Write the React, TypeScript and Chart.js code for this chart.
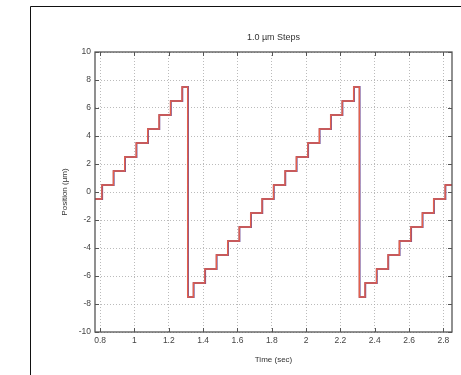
import React, { useEffect, useRef } from "react";
import { Chart, registerables } from "chart.js";

Chart.register(...registerables);

const chartTitle = "1.0 µm Steps";
const xAxisTitle = "Time (sec)";
const yAxisTitle = "Position (µm)";

// Commanded position: step transition times (s) and the new level (µm)
const commandTimes = [
  0.77, 0.81, 0.877, 0.943, 1.01, 1.077, 1.143, 1.21, 1.277,
  1.31, 1.343, 1.41, 1.477, 1.543, 1.61, 1.677, 1.743, 1.81, 1.877, 1.943,
  2.01, 2.077, 2.143, 2.21, 2.277,
  2.31, 2.343, 2.41, 2.477, 2.543, 2.61, 2.677, 2.743, 2.81, 2.85,
];
const commandLevels = [
  -0.5, 0.5, 1.5, 2.5, 3.5, 4.5, 5.5, 6.5, 7.5,
  -7.5, -6.5, -5.5, -4.5, -3.5, -2.5, -1.5, -0.5, 0.5, 1.5, 2.5,
  3.5, 4.5, 5.5, 6.5, 7.5,
  -7.5, -6.5, -5.5, -4.5, -3.5, -2.5, -1.5, -0.5, 0.5, 0.5,
];

// Measured position (slightly lagging the command)
const measuredTimes = [
  0.77, 0.812, 0.879, 0.945, 1.012, 1.079, 1.145, 1.212, 1.279,
  1.312, 1.345, 1.412, 1.479, 1.545, 1.612, 1.679, 1.745, 1.812, 1.879, 1.945,
  2.012, 2.079, 2.145, 2.212, 2.279,
  2.312, 2.345, 2.412, 2.479, 2.545, 2.612, 2.679, 2.745, 2.812, 2.85,
];
const measuredLevels = [
  -0.5, 0.5, 1.5, 2.5, 3.5, 4.5, 5.5, 6.5, 7.5,
  -7.5, -6.5, -5.5, -4.5, -3.5, -2.5, -1.5, -0.5, 0.5, 1.5, 2.5,
  3.5, 4.5, 5.5, 6.5, 7.5,
  -7.5, -6.5, -5.5, -4.5, -3.5, -2.5, -1.5, -0.5, 0.5, 0.5,
];

const xTicks = [0.8, 1, 1.2, 1.4, 1.6, 1.8, 2, 2.2, 2.4, 2.6, 2.8];
const yTicks = [-10, -8, -6, -4, -2, 0, 2, 4, 6, 8, 10];

const FONT = "'Liberation Sans', Arial, sans-serif";

const framePlugin = {
  id: "framePlugin",
  beforeDraw(chart: any) {
    const ctx = chart.ctx;
    ctx.save();
    ctx.fillStyle = "#ffffff";
    ctx.fillRect(0, 0, chart.width, chart.height);
    ctx.strokeStyle = "#111111";
    ctx.lineWidth = 1;
    ctx.beginPath();
    ctx.moveTo(30.5, chart.height);
    ctx.lineTo(30.5, 6.5);
    ctx.lineTo(chart.width, 6.5);
    ctx.stroke();
    ctx.restore();
  },
  afterDraw(chart: any) {
    const ctx = chart.ctx;
    const a = chart.chartArea;
    const xs = chart.scales.x;
    const ys = chart.scales.y;
    ctx.save();
    ctx.strokeStyle = "#555555";
    ctx.lineWidth = 1.3;
    ctx.strokeRect(a.left, a.top, a.right - a.left, a.bottom - a.top);
    ctx.lineWidth = 1;
    ctx.beginPath();
    for (const t of xTicks) {
      const px = Math.round(xs.getPixelForValue(t)) + 0.5;
      ctx.moveTo(px, a.bottom);
      ctx.lineTo(px, a.bottom - 4);
      ctx.moveTo(px, a.top);
      ctx.lineTo(px, a.top + 4);
    }
    for (const v of yTicks) {
      const py = Math.round(ys.getPixelForValue(v)) + 0.5;
      ctx.moveTo(a.left, py);
      ctx.lineTo(a.left + 4, py);
      ctx.moveTo(a.right, py);
      ctx.lineTo(a.right - 4, py);
    }
    ctx.stroke();
    // title
    ctx.fillStyle = "#333333";
    ctx.font = `9px ${FONT}`;
    ctx.textAlign = "center";
    ctx.textBaseline = "middle";
    ctx.fillText(chartTitle, (a.left + a.right) / 2, 38);
    ctx.restore();
  },
};

export default function App() {
  const ref = useRef<HTMLCanvasElement | null>(null);
  useEffect(() => {
    if (!ref.current) return;
    const chart = new Chart(ref.current, {
      type: "line",
      data: {
        datasets: [
          {
            label: "Command",
            data: commandTimes.map((t, i) => ({ x: t, y: commandLevels[i] })),
            borderColor: "#e5604a",
            borderWidth: 1.4,
            pointRadius: 0,
            stepped: true,
            fill: false,
            order: 0,
          },
          {
            label: "Measured",
            data: measuredTimes.map((t, i) => ({ x: t, y: measuredLevels[i] })),
            borderColor: "#6a4a96",
            borderWidth: 1.8,
            pointRadius: 0,
            stepped: true,
            fill: false,
            order: 1,
          },
        ],
      },
      options: {
        responsive: false,
        animation: false,
        layout: { padding: { left: 50, right: 9, top: 52, bottom: 10 } },
        plugins: {
          legend: { display: false },
          title: { display: false },
          tooltip: { enabled: false },
        },
        scales: {
          x: {
            type: "linear",
            min: 0.77,
            max: 2.85,
            afterBuildTicks(scale: any) {
              scale.ticks = xTicks.map((v) => ({ value: v }));
            },
            afterFit(scale: any) {
              scale.height = 33;
            },
            grid: {
              color: "#aaaaaa",
              lineWidth: 0.8,
              drawTicks: false,
            },
            border: { display: false, dash: [1, 2] },
            ticks: {
              color: "#444444",
              font: { family: FONT, size: 8.5 },
              padding: 4,
              maxRotation: 0,
              autoSkip: false,
              callback: (v: any) => String(v),
            },
            title: {
              display: true,
              text: xAxisTitle,
              color: "#333333",
              font: { family: FONT, size: 8 },
              padding: { top: 1, bottom: 0 },
            },
          },
          y: {
            type: "linear",
            min: -10,
            max: 10,
            afterBuildTicks(scale: any) {
              scale.ticks = yTicks.map((v) => ({ value: v }));
            },
            afterFit(scale: any) {
              scale.width = 45;
            },
            grid: {
              color: "#aaaaaa",
              lineWidth: 0.8,
              drawTicks: false,
            },
            border: { display: false, dash: [1, 2] },
            ticks: {
              color: "#444444",
              font: { family: FONT, size: 8.5 },
              padding: 4,
              autoSkip: false,
              callback: (v: any) => String(v),
            },
            title: {
              display: true,
              text: yAxisTitle,
              color: "#333333",
              font: { family: FONT, size: 8 },
              padding: { top: 10, bottom: 4 },
            },
          },
        },
      },
      plugins: [framePlugin],
    });
    return () => chart.destroy();
  }, []);
  return (
    <div style={{ position: "fixed", left: 0, top: 0, width: 461, height: 375 }}>
      <canvas ref={ref} width={461} height={375} style={{ display: "block" }} />
    </div>
  );
}
